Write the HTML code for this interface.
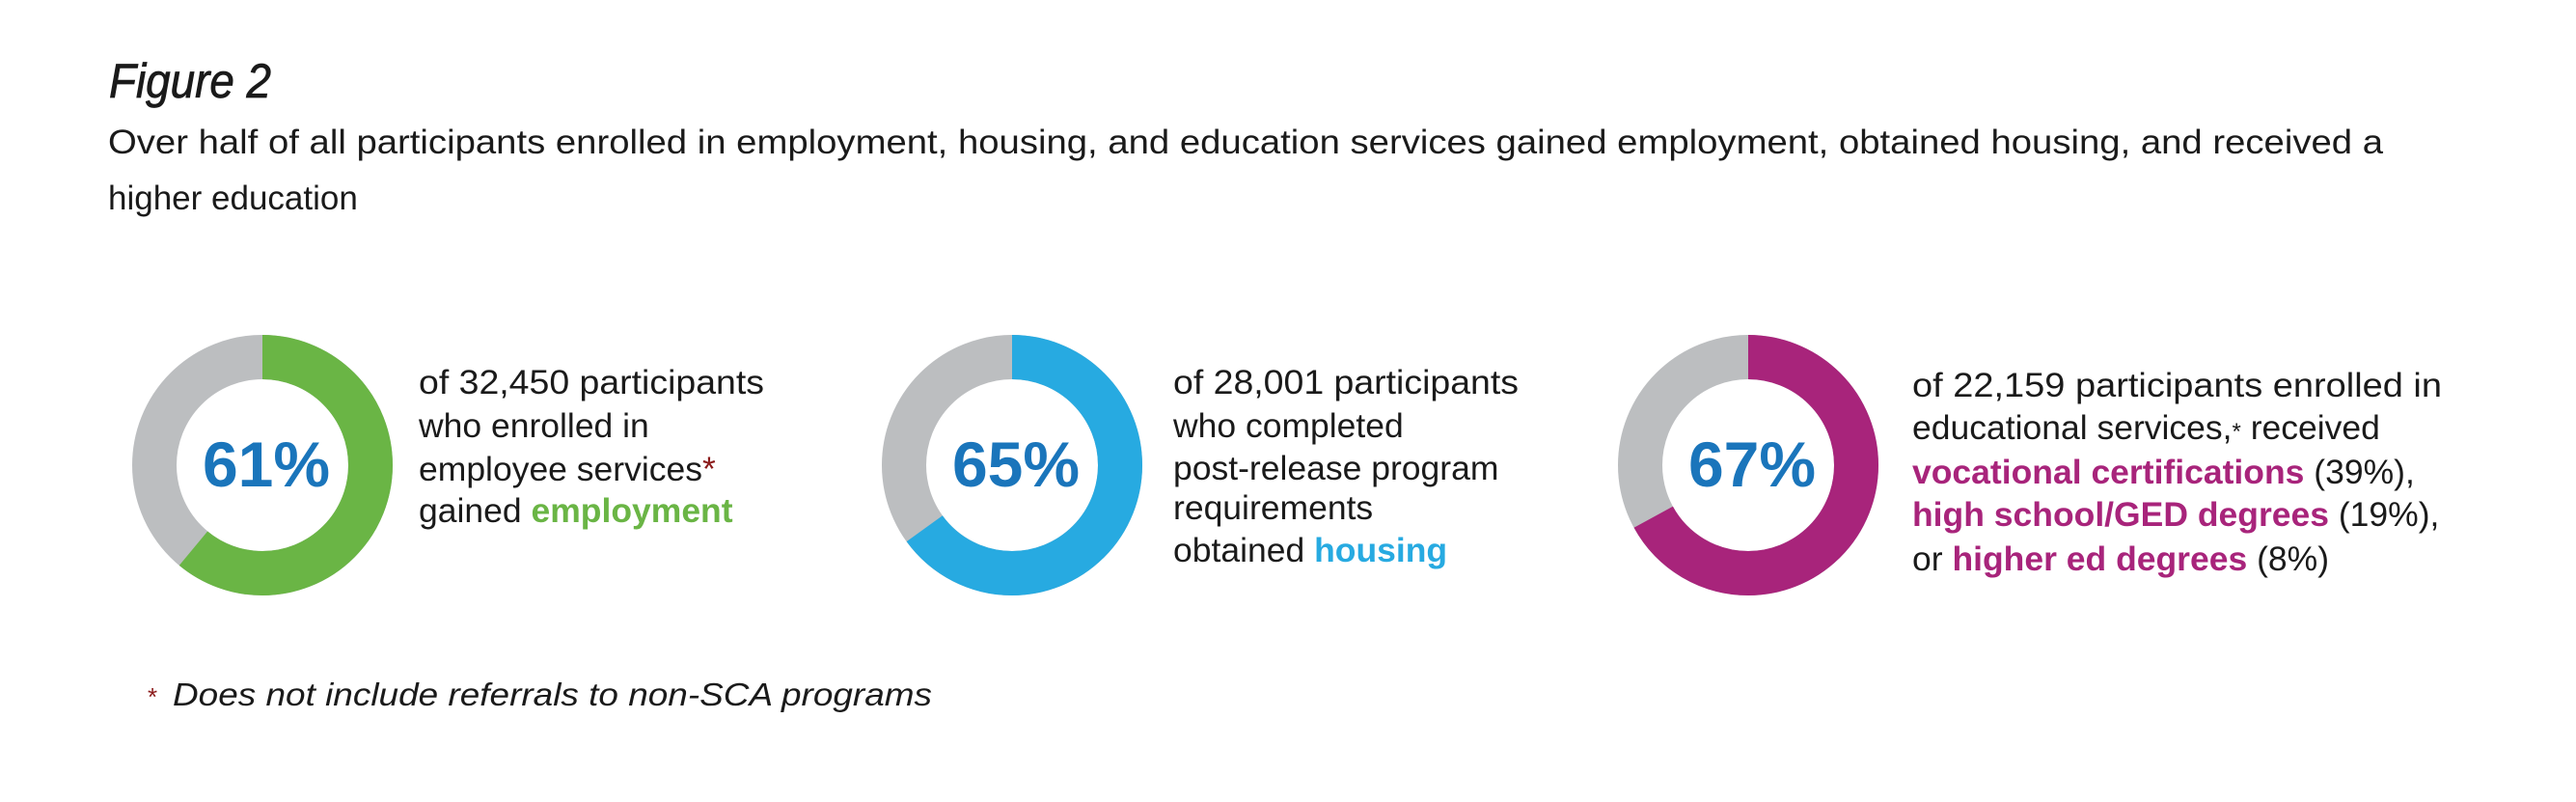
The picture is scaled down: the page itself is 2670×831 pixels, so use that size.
<!DOCTYPE html>
<html><head><meta charset="utf-8"><style>
html,body{margin:0;padding:0;background:#fff;}
svg{display:block;}
text{font-family:"Liberation Sans",sans-serif;}
.b{font-size:35.5px;fill:#1a1a1a;}
.pc{font-size:66px;font-weight:bold;fill:#1a75bb;}
</style></head><body>
<svg width="2670" height="831" viewBox="0 0 2670 831" xmlns="http://www.w3.org/2000/svg">
<text x="113" y="101" font-size="50" font-style="italic" fill="#1a1a1a" stroke="#1a1a1a" stroke-width="0.8" textLength="168" lengthAdjust="spacingAndGlyphs">Figure 2</text>
<text x="112" y="159" font-size="35" fill="#1a1a1a" textLength="2358" lengthAdjust="spacingAndGlyphs">Over half of all participants enrolled in employment, housing, and education services gained employment, obtained housing, and received a</text>
<text x="112" y="217" font-size="35" fill="#1a1a1a">higher education</text>

<g fill="none" stroke-width="46">
<circle cx="272" cy="482" r="112" stroke="#bcbec0"/>
<circle cx="272" cy="482" r="112" stroke="#6ab545" stroke-dasharray="429.3 1000" transform="rotate(-90 272 482)"/>
<circle cx="1049" cy="482" r="112" stroke="#bcbec0"/>
<circle cx="1049" cy="482" r="112" stroke="#27aae1" stroke-dasharray="457.4 1000" transform="rotate(-90 1049 482)"/>
<circle cx="1812" cy="482" r="112" stroke="#bcbec0"/>
<circle cx="1812" cy="482" r="112" stroke="#a8247b" stroke-dasharray="471.5 1000" transform="rotate(-90 1812 482)"/>
</g>
<text class="pc" x="276" y="504" text-anchor="middle">61%</text>
<text class="pc" x="1053" y="504" text-anchor="middle">65%</text>
<text class="pc" x="1816" y="504" text-anchor="middle">67%</text>

<text class="b" x="434" y="408" textLength="358" lengthAdjust="spacingAndGlyphs">of 32,450 participants</text>
<text class="b" x="434" y="453">who enrolled in</text>
<text class="b" x="434" y="498">employee services<tspan fill="#8b1a1a">*</tspan></text>
<text class="b" x="434" y="541">gained <tspan fill="#6ab545" font-weight="bold">employment</tspan></text>

<text class="b" x="1216" y="408" textLength="358" lengthAdjust="spacingAndGlyphs">of 28,001 participants</text>
<text class="b" x="1216" y="453">who completed</text>
<text class="b" x="1216" y="497">post-release program</text>
<text class="b" x="1216" y="538">requirements</text>
<text class="b" x="1216" y="582">obtained <tspan fill="#27aae1" font-weight="bold">housing</tspan></text>

<text class="b" x="1982" y="411" textLength="549" lengthAdjust="spacingAndGlyphs">of  22,159 participants enrolled in</text>
<text class="b" x="1982" y="455">educational services,<tspan font-size="24">*</tspan> received</text>
<text class="b" x="1982" y="501"><tspan fill="#a8247b" font-weight="bold">vocational certifications</tspan> (39%),</text>
<text class="b" x="1982" y="545"><tspan fill="#a8247b" font-weight="bold">high school/GED degrees</tspan> (19%),</text>
<text class="b" x="1982" y="591">or <tspan fill="#a8247b" font-weight="bold">higher ed degrees</tspan> (8%)</text>

<text x="153" y="731" font-size="26" fill="#8b1a1a">*</text>
<text x="179" y="731" font-size="33" font-style="italic" fill="#1a1a1a" textLength="787" lengthAdjust="spacingAndGlyphs">Does not include referrals to non-SCA programs</text>
</svg>
</body></html>
